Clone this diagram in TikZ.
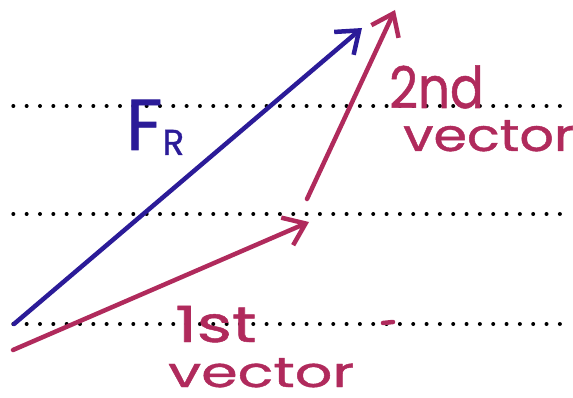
\documentclass[tikz,border=0pt]{standalone}
\usepackage{fontspec}
\usepackage{graphicx}
\setmainfont{Poppins}
\newfontfamily\handfont[FakeBold=0.9]{Poppins}
\usetikzlibrary{arrows.meta}
\definecolor{inkblue}{HTML}{2B1B98}
\definecolor{inkpink}{HTML}{B02A5C}
\begin{document}
\begin{tikzpicture}[x=1pt,y=-1pt,
  guide/.style={line width=4pt, line cap=round, dash pattern=on 0pt off 13.33pt, black},
  vec/.style={line width=4.5pt, line cap=round, line join=round, -{Straight Barb[length=20pt,width=30pt]}},
  hand/.style={inner sep=0pt, anchor=base west},
]
\useasboundingbox (0,0) rectangle (573,398);
% dotted guide lines
\foreach \y/\n in {106/a,214/b,324/c}{
  \coordinate (g\n L) at (13.33,\y);
  \coordinate (g\n R) at (573,\y);
  \draw[guide] (g\n L) -- (g\n R);
}
% vectors
\coordinate (O)  at (14,324);
\coordinate (R)  at (362,28);
\coordinate (A0) at (13,350);
\coordinate (A1) at (309,222);
\coordinate (B0) at (307,199);
\coordinate (B1) at (395,10);
\draw[vec, inkblue] (O) -- (R);
\draw[vec, inkpink] (A0) -- (A1);
\draw[vec, inkpink] (B0) -- (B1);
% labels
\node[hand, text=inkblue, font=\handfont\fontsize{72}{72}\selectfont] (FR) at (126,150)
  {F\lower5pt\hbox{\fontsize{36}{36}\selectfont R}};
\node[hand, text=inkpink, font=\handfont\fontsize{50}{50}\selectfont] (second) at (389,108) {\scalebox{1}[1.15]{2nd}};
\node[hand, text=inkpink, font=\handfont\fontsize{45}{45}\selectfont] (secondv) at (403,151) {\scalebox{1.2}[1]{vector}};
\node[hand, text=inkpink, font=\handfont\fontsize{50}{50}\selectfont] (first) at (175,342) {\scalebox{1.35}[1]{1st}};
\node[hand, text=inkpink, font=\handfont\fontsize{42}{42}\selectfont] (firstv) at (168,387) {\scalebox{1.4}[1]{vector}};
\coordinate (d0) at (383,323);
\coordinate (d1) at (393,322);
\draw[inkpink, line width=4.5pt, line cap=round] (d0) -- (d1);
\end{tikzpicture}
\end{document}
